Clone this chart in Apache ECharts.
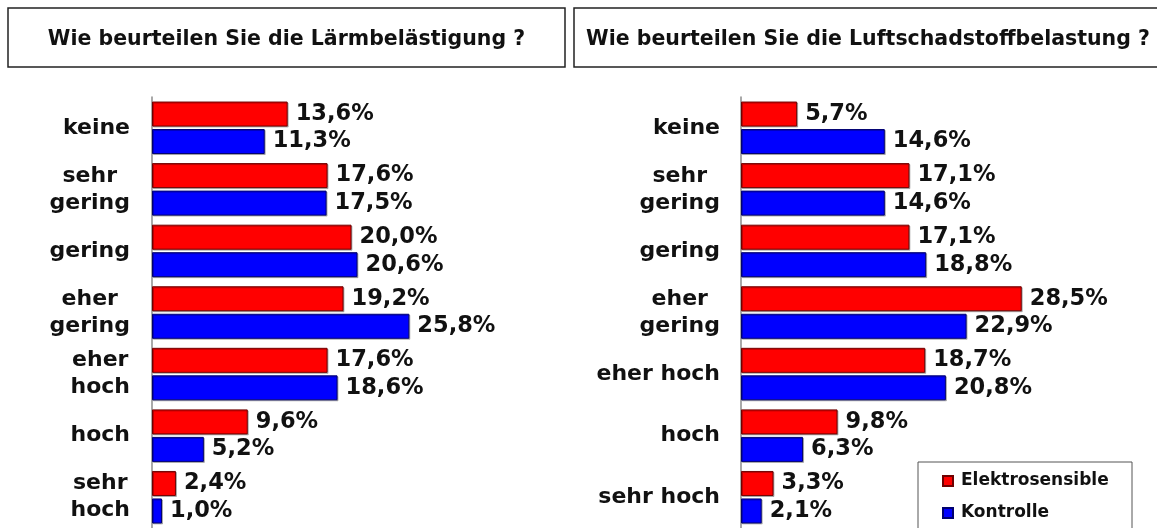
<!DOCTYPE html>
<html>
<head>
<meta charset="utf-8">
<script src="https://cdn.jsdelivr.net/npm/echarts@6/dist/echarts.min.js"></script>
<style>
  html, body { margin: 0; padding: 0; background: #fff; }
  #chart { width: 1157px; height: 528px; }
</style>
</head>
<body>
<div id="chart"></div>
<script>
// Kategorien (links: Lärm, rechts: Luftschadstoffe)
const laermKategorien = ['keine', 'sehr\ngering', 'gering', 'eher\ngering', 'eher\nhoch', 'hoch', 'sehr\nhoch']
const luftKategorien = ['keine', 'sehr\ngering', 'gering', 'eher\ngering', 'eher hoch', 'hoch', 'sehr hoch']

// Werte in %
const laermElektro = [13.6, 17.6, 20.0, 19.2, 17.6, 9.6, 2.4]
const laermKontrolle = [11.3, 17.5, 20.6, 25.8, 18.6, 5.2, 1.0]
const luftElektro = [5.7, 17.1, 17.1, 28.5, 18.7, 9.8, 3.3]
const luftKontrolle = [14.6, 14.6, 18.8, 22.9, 20.8, 6.3, 2.1]

const titel = ['Wie beurteilen Sie die Lärmbelästigung ?', 'Wie beurteilen Sie die Luftschadstoffbelastung ?']
const serienNamen = ['Elektrosensible', 'Kontrolle']

const FONT = '"DejaVu Sans", Verdana, sans-serif'
const ROT = '#ff0000'
const BLAU = '#0000ff'

const chart = echarts.init(document.getElementById('chart'))

// Zeilen jeder Kategorie zentriert, Block rechtsbündig an der Achse
function katLabel(value) {
  return value.split('\n').map(z => '{c|' + z + '}').join('\n')
}

function prozent(p) {
  return p.value.toFixed(1).replace('.', ',') + '%'
}

function yAchse(idx, daten, margin) {
  return {
    type: 'category',
    gridIndex: idx,
    inverse: true,
    data: daten,
    axisTick: { show: false },
    axisLine: { lineStyle: { color: '#8c8c8c', width: 1.5 } },
    axisLabel: {
      margin: margin,
      align: 'right',
      formatter: katLabel,
      rich: {
        c: {
          align: 'center',
          fontFamily: FONT,
          fontWeight: 'bold',
          fontSize: 22,
          lineHeight: 27,
          color: '#111'
        }
      }
    }
  }
}

function xAchse(idx) {
  return {
    type: 'value',
    gridIndex: idx,
    min: 0,
    max: 40,
    show: false
  }
}

function balken(name, idx, werte, farbe, rand) {
  return {
    name: name,
    type: 'bar',
    xAxisIndex: idx,
    yAxisIndex: idx,
    data: werte,
    barWidth: 25,
    barGap: '10%',
    itemStyle: {
      color: farbe,
      borderColor: rand,
      borderWidth: 1,
      shadowColor: 'rgba(0,0,0,0.25)',
      shadowOffsetX: 1,
      shadowOffsetY: 1
    },
    label: {
      show: true,
      position: 'right',
      distance: 8,
      formatter: prozent,
      fontFamily: FONT,
      fontWeight: 'bold',
      fontSize: 22.5,
      color: '#111'
    }
  }
}

function titelBox(x, breite, text) {
  return {
    type: 'group',
    children: [
      {
        type: 'rect',
        shape: { x: x, y: 8, width: breite, height: 59 },
        style: { fill: '#fff', stroke: '#222', lineWidth: 1.5 }
      },
      {
        type: 'text',
        x: x + breite / 2,
        y: 40,
        style: {
          text: text,
          fontFamily: FONT,
          fontWeight: 'bold',
          fontSize: 20.5,
          fill: '#111',
          align: 'center',
          verticalAlign: 'middle'
        }
      }
    ]
  }
}

chart.setOption({
  backgroundColor: '#fff',
  animation: false,
  graphic: [
    titelBox(8, 557, titel[0]),
    titelBox(574, 588, titel[1]),
    // Rahmen der Legende (unten abgeschnitten wie im Original)
    {
      type: 'rect',
      z: 0,
      shape: { x: 918, y: 462, width: 214, height: 80 },
      style: { fill: '#fff', stroke: '#555', lineWidth: 1 }
    }
  ],
  grid: [
    { left: 152, top: 97, width: 399, height: 434 },
    { left: 741, top: 97, width: 394, height: 434 }
  ],
  xAxis: [xAchse(0), xAchse(1)],
  yAxis: [yAchse(0, laermKategorien, 22), yAchse(1, luftKategorien, 21)],
  legend: {
    data: serienNamen,
    orient: 'vertical',
    left: 942,
    top: 471,
    padding: 0,
    itemGap: 12,
    itemWidth: 10,
    itemHeight: 10,
    icon: 'rect',
    z: 5,
    textStyle: {
      fontFamily: FONT,
      fontWeight: 'bold',
      fontSize: 17,
      lineHeight: 20,
      color: '#111',
      padding: [0, 0, 0, 3]
    }
  },
  series: [
    balken(serienNamen[0], 0, laermElektro, ROT, '#700000'),
    balken(serienNamen[1], 0, laermKontrolle, BLAU, '#000070'),
    balken(serienNamen[0], 1, luftElektro, ROT, '#700000'),
    balken(serienNamen[1], 1, luftKontrolle, BLAU, '#000070')
  ]
})
</script>
</body>
</html>
